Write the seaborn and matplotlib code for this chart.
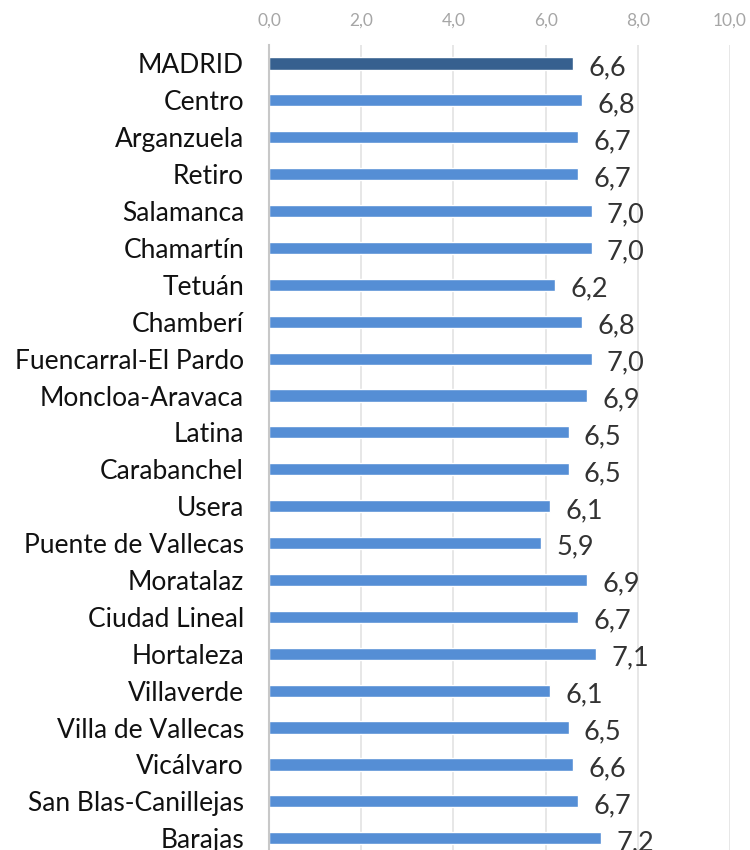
import matplotlib
matplotlib.use("Agg")
import matplotlib.pyplot as plt
import seaborn as sns
import pandas as pd

categories = ["MADRID", "Centro", "Arganzuela", "Retiro", "Salamanca", "Chamartín",
              "Tetuán", "Chamberí", "Fuencarral-El Pardo", "Moncloa-Aravaca", "Latina",
              "Carabanchel", "Usera", "Puente de Vallecas", "Moratalaz", "Ciudad Lineal",
              "Hortaleza", "Villaverde", "Villa de Vallecas", "Vicálvaro",
              "San Blas-Canillejas", "Barajas"]
values = [6.6, 6.8, 6.7, 6.7, 7.0, 7.0, 6.2, 6.8, 7.0, 6.9, 6.5, 6.5, 6.1, 5.9,
          6.9, 6.7, 7.1, 6.1, 6.5, 6.6, 6.7, 7.2]
xticks = [0, 2, 4, 6, 8, 10]

sns.set_style("white")
plt.rcParams['font.family'] = ['Lato', 'DejaVu Sans']

df = pd.DataFrame({"cat": categories, "val": values})
palette = {c: ("#36608F" if c == "MADRID" else "#558ED5") for c in categories}

fig = plt.figure(figsize=(7.5, 8.5), dpi=100)
ax = fig.add_axes([0.3587, 0.0, 0.6146, 0.947])
sns.barplot(data=df, x="val", y="cat", hue="cat", palette=palette, legend=False,
            orient="h", width=0.33, saturation=1, ax=ax, zorder=3)

ax.set_xlim(0, 10)
ax.set_ylim(21.32, -0.5)
ax.set_xticks(xticks)
ax.set_xticklabels([f"{v:.1f}".replace(".", ",") for v in xticks])
ax.xaxis.tick_top()
ax.tick_params(axis="x", length=0, labelsize=12.5, labelcolor="#A6A6A6", pad=12)
ax.tick_params(axis="y", length=0, labelsize=19, labelcolor="#111111", pad=18)
ax.set_xlabel("")
ax.set_ylabel("")
ax.grid(axis="x", color="#E3E3E3", linewidth=1.2, zorder=0)
for s in ["top", "right", "bottom"]:
    ax.spines[s].set_visible(False)
ax.spines["left"].set_color("#C8C8C8")
ax.spines["left"].set_linewidth(1.5)
ax.spines["left"].set_zorder(4)

for cont in ax.containers:
    labels = [f"{b.get_width():.1f}".replace(".", ",") for b in cont]
    anns = ax.bar_label(cont, labels=labels, padding=11, fontsize=19.5, color="#333333")
    for a in anns:
        a.xyann = (11, -3)

fig.savefig("out.png", dpi=100)
